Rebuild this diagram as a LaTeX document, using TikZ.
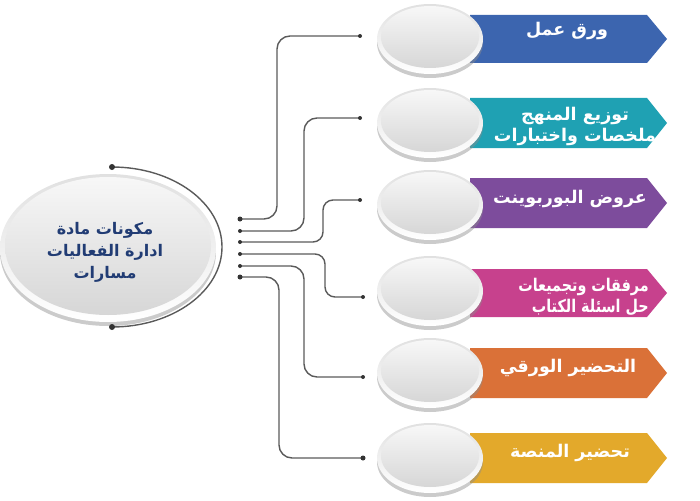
\documentclass[tikz,border=0pt]{standalone}
\usepackage{fontspec}
\newfontfamily\arabicfont[Script=Arabic]{DejaVu Sans}
\TeXXeTstate=1
\usetikzlibrary{shapes.geometric,shadows}
\definecolor{cBlue}{HTML}{3C65AF}
\definecolor{cTeal}{HTML}{1FA1B3}
\definecolor{cPurple}{HTML}{7D4C9C}
\definecolor{cMagenta}{HTML}{C7418D}
\definecolor{cOrange}{HTML}{DA7138}
\definecolor{cGold}{HTML}{E3A92B}
\definecolor{cNavy}{HTML}{213C74}
\definecolor{cLine}{HTML}{5A5A5A}
\newcommand\squeezeline[1]{\scalebox{0.82}[1]{\arabicfont\bfseries\fontsize{17.5}{21}\selectfont\beginR #1\endR}}
\begin{document}
\begin{tikzpicture}[x=1pt,y=-1pt,
  conn/.style={draw=cLine, line width=1.4pt, rounded corners=13pt},
  dotc/.style={circle, fill=black!80, inner sep=0pt, minimum size=#1},
  dotc/.default=4pt,
  rim/.style={ellipse, inner sep=0pt, draw=none, top color=black!12, bottom color=white,
    drop shadow={shadow xshift=0pt, shadow yshift=-4pt, fill=black!45, opacity=.45}},
  face/.style={ellipse, inner sep=0pt, draw=none, top color=black!3, bottom color=black!16},
  lbl/.style={text=white, font=\arabicfont\bfseries\fontsize{17.5}{21}\selectfont, align=center, inner sep=0pt},
  hubtxt/.style={text=cNavy, font=\arabicfont\bfseries\fontsize{16}{22}\selectfont, align=center, inner sep=0pt}
]
\useasboundingbox (0,0) rectangle (700,500);

% banners
\fill[cBlue]    (470,15)  -- (647,15)  -- (667,39)  -- (647,63)  -- (470,63)  -- cycle;
\fill[cTeal]    (470,98)  -- (647,98)  -- (667,123) -- (647,148) -- (470,148) -- cycle;
\fill[cPurple]  (470,178) -- (647,178) -- (667,203) -- (647,228) -- (470,228) -- cycle;
\fill[cMagenta] (470,269) -- (647,269) -- (667,293) -- (647,317) -- (470,317) -- cycle;
\fill[cOrange]  (470,348) -- (647,348) -- (667,373) -- (647,398) -- (470,398) -- cycle;
\fill[cGold]    (470,433) -- (647,433) -- (667,458) -- (647,483) -- (470,483) -- cycle;

% banner texts
\node[lbl] (t1) at (567,31) {\beginR ورق عمل\endR};
\node[lbl] (t2) at (575,126) {\beginR توزيع المنهج\endR\\\beginR ملخصات واختبارات\endR};
\node[lbl] (t3) at (570,199) {\beginR عروض البوربوينت\endR};
\node[lbl, anchor=east, align=right] (t4) at (649,297) {\squeezeline{مرفقات وتجميعات}\\\squeezeline{حل اسئلة الكتاب}};
\node[lbl] (t5) at (568,368) {\beginR التحضير الورقي\endR};
\node[lbl] (t6) at (570,453) {\beginR تحضير المنصة\endR};

% item discs
\foreach \n/\yy in {1/39,2/123,3/205,4/291,5/373,6/458}{
  \node[rim, minimum width=106pt, minimum height=70pt] (d\n) at (430,\yy) {};
  \node[face, minimum width=98pt, minimum height=62pt] (f\n) at (430,\yy-2) {};
}

% hub
\node[rim, minimum width=216pt, minimum height=148pt] (hub) at (108,248) {};
\node[face, minimum width=206pt, minimum height=138pt] (hubf) at (108,246) {};
\node[hubtxt] (hubt) at (105,252) {\beginR مكونات مادة\endR\\\beginR ادارة الفعاليات\endR\\\beginR مسارات\endR};

% outer arc
\coordinate (a1) at (112,167);
\coordinate (a2) at (112,327);
\draw[draw=cLine, line width=1.4pt] (a1) arc[start angle=-90, end angle=90, x radius=110, y radius=80];
\node[dotc=6pt] at (a1) {};
\node[dotc=6pt] at (a2) {};

% connector coordinates
\coordinate (s1) at (240,219); \coordinate (e1) at (360,36);
\coordinate (s2) at (240,231); \coordinate (e2) at (360,118);
\coordinate (s3) at (240,242); \coordinate (e3) at (360,200);
\coordinate (s4) at (240,254); \coordinate (e4) at (363,297);
\coordinate (s5) at (240,266); \coordinate (e5) at (363,377);
\coordinate (s6) at (240,277); \coordinate (e6) at (363,458);
\coordinate (k1) at (277,36);
\coordinate (k2) at (304,118);
\coordinate (k3) at (323,200);
\coordinate (k4) at (325,297);
\coordinate (k5) at (304,377);
\coordinate (k6) at (279,458);

\draw[conn] (s1) -| (k1) -- (e1);
\draw[conn] (s2) -| (k2) -- (e2);
\draw[conn, rounded corners=10pt] (s3) -| (k3) -- (e3);
\draw[conn, rounded corners=10pt] (s4) -| (k4) -- (e4);
\draw[conn] (s5) -| (k5) -- (e5);
\draw[conn] (s6) -| (k6) -- (e6);

\foreach \p in {s2,s3,s4,s5,e1,e2,e3,e4,e5}{ \node[dotc] at (\p) {}; }
\foreach \p in {s1,s6,e6}{ \node[dotc=5pt] at (\p) {}; }
\end{tikzpicture}
\end{document}
